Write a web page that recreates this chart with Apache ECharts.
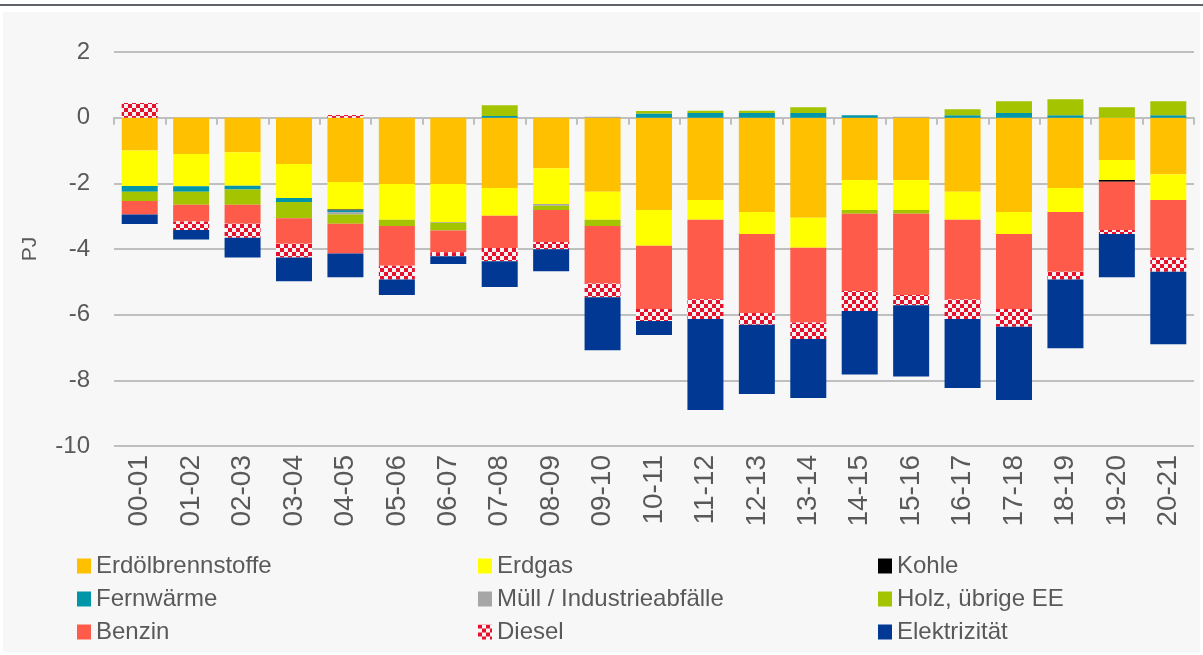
<!DOCTYPE html>
<html>
<head>
<meta charset="utf-8">
<script src="https://cdn.jsdelivr.net/npm/echarts@6/dist/echarts.min.js"></script>
<style>
  body { margin: 0; background: #ffffff; }
  #topline { position: absolute; left: 0; top: 4px; width: 1203px; height: 2px; background: #5f6368; }
  #panel { position: absolute; left: 3px; top: 12px; width: 1197px; height: 640px; background: #f7f7f7; }
  #chart { position: absolute; left: 0; top: 0; width: 1203px; height: 655px; }
</style>
</head>
<body>
<div id="topline"></div>
<div id="panel"></div>
<div id="chart"></div>
<script>
var years = ['00-01','01-02','02-03','03-04','04-05','05-06','06-07','07-08','08-09','09-10','10-11',
             '11-12','12-13','13-14','14-15','15-16','16-17','17-18','18-19','19-20','20-21'];

var erdoel = [-1.00,-1.11,-1.05,-1.41,-1.96,-2.02,-2.02,-2.14,-1.54,-2.26,-2.81,-2.51,-2.87,-3.05,-1.90,-1.90,-2.26,-2.87,-2.14,-1.29,-1.72];
var erdgas = [-1.08,-0.98,-1.02,-1.04,-0.84,-1.09,-1.16,-0.85,-1.09,-0.85,-1.09,-0.60,-0.67,-0.91,-0.91,-0.91,-0.85,-0.67,-0.73,-0.61,-0.79];
var kohle = [0,0,0,0,-0.03,0,0,0,0,0,0,0,0,0,0,0,0,0,0,-0.05,0];
var fernwaerme = [-0.18,-0.17,-0.12,-0.12,-0.05,0,0,0.05,0,0,0.13,0.14,0.14,0.14,0.07,0,0.07,0.14,0.07,0,0.07];
var muell = [0,0,0,0,-0.07,0,-0.02,0,-0.05,0.03,0,0,0,0,0,0.03,0,0,0,0,0];
var holz = [-0.28,-0.39,-0.46,-0.49,-0.28,-0.19,-0.24,0.33,-0.13,-0.19,0.07,0.07,0.07,0.18,-0.12,-0.12,0.19,0.36,0.49,0.32,0.43];
var benzin = [-0.41,-0.51,-0.58,-0.78,-0.91,-1.21,-0.66,-0.98,-0.98,-1.75,-1.93,-2.42,-2.41,-2.28,-2.35,-2.47,-2.43,-2.29,-1.82,-1.47,-1.75];
var diesel = [0.45,-0.26,-0.43,-0.42,0.08,-0.42,-0.12,-0.40,-0.22,-0.42,-0.36,-0.60,-0.36,-0.50,-0.61,-0.31,-0.59,-0.54,-0.24,-0.12,-0.43];
var elektrizitaet = [-0.29,-0.29,-0.60,-0.72,-0.72,-0.47,-0.24,-0.79,-0.67,-1.61,-0.43,-2.77,-2.11,-1.80,-1.93,-2.17,-2.10,-2.23,-2.09,-1.32,-2.21];

var yTicks = [-10, -8, -6, -4, -2, 0, 2];

// checker pattern for Diesel
var pc = document.createElement('canvas');
pc.width = 8; pc.height = 8;
var g = pc.getContext('2d');
g.fillStyle = '#f4f4f4'; g.fillRect(0, 0, 8, 8);
g.fillStyle = '#e8112d'; g.fillRect(0, 0, 4, 4); g.fillRect(4, 4, 4, 4);
var dieselFill = { image: pc, repeat: 'repeat' };

var font = '"Liberation Sans", Arial, sans-serif';
var txt = '#595959';

function nz(arr) { return arr.map(function (v) { return v === 0 ? '-' : v; }); }

function bar(name, data, color) {
    return {
        name: name, type: 'bar', stack: 'all', data: nz(data),
        barWidth: 36,
        itemStyle: { color: color },
        emphasis: { disabled: true }
    };
}

function legendCol(left, names) {
    return {
        orient: 'vertical', left: left, top: 554, padding: 0,
        itemWidth: 14, itemHeight: 15, itemGap: 9,
        icon: 'rect',
        data: names,
        textStyle: { color: txt, fontSize: 24, lineHeight: 24, fontFamily: font }
    };
}

var myChart = echarts.init(document.getElementById('chart'));
myChart.setOption({
    animation: false,
    backgroundColor: 'transparent',
    grid: { left: 114, right: 9, top: 52, bottom: 209 },
    legend: [
        legendCol(77, ['Erdölbrennstoffe', 'Fernwärme', 'Benzin']),
        legendCol(478, ['Erdgas', 'Müll / Industrieabfälle', 'Diesel']),
        legendCol(878, ['Kohle', 'Holz, übrige EE', 'Elektrizität'])
    ],
    xAxis: [{
        type: 'category', data: years,
        axisLine: { onZero: true, lineStyle: { color: '#bfbfbf', width: 2 } },
        axisTick: { show: true, length: 7, lineStyle: { color: '#bfbfbf', width: 2 } },
        axisLabel: { show: false }
    }, {
        type: 'category', data: years, position: 'bottom',
        axisLine: { show: false, onZero: false },
        axisTick: { show: false },
        axisLabel: { rotate: 90, margin: 9, color: txt, fontSize: 28, fontFamily: font }
    }],
    yAxis: {
        type: 'value', min: yTicks[0], max: yTicks[yTicks.length - 1], interval: 2,
        name: 'PJ', nameLocation: 'middle', nameGap: 73,
        nameTextStyle: { color: txt, fontSize: 21, fontFamily: font },
        axisLine: { show: false },
        axisTick: { show: false },
        axisLabel: { margin: 24, color: txt, fontSize: 24, fontFamily: font },
        splitLine: { lineStyle: { color: '#bfbfbf', width: 2 } }
    },
    series: [
        bar('Erdölbrennstoffe', erdoel, '#ffc000'),
        bar('Erdgas', erdgas, '#ffff00'),
        bar('Kohle', kohle, '#000000'),
        bar('Fernwärme', fernwaerme, '#0096aa'),
        bar('Müll / Industrieabfälle', muell, '#a6a6a6'),
        bar('Holz, übrige EE', holz, '#a5c400'),
        bar('Benzin', benzin, '#ff5b4a'),
        bar('Diesel', diesel, dieselFill),
        bar('Elektrizität', elektrizitaet, '#003893')
    ]
});
</script>
</body>
</html>
